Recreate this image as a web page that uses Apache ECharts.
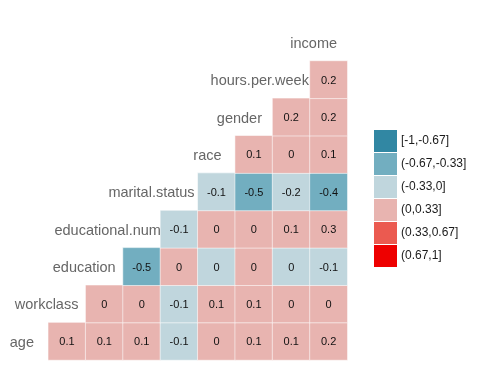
<!DOCTYPE html>
<html>
<head>
<meta charset="utf-8">
<script src="https://cdn.jsdelivr.net/npm/echarts@6/dist/echarts.min.js"></script>
<style>html,body{margin:0;padding:0;background:#fff;}#chart{width:480px;height:384px;}</style>
</head>
<body>
<div id="chart"></div>
<script>
// Variable names, placed on the diagonal (index 0 = bottom/left)
var variables = ['age','workclass','education','educational.num','marital.status','race','gender','hours.per.week','income'];
// Correlation values per row (row y, starting at column y+1)
var rowAge = [0.1, 0.1, 0.1, -0.1, 0.02, 0.1, 0.1, 0.2];
var rowWorkclass = [0.02, 0.02, -0.1, 0.1, 0.1, 0.02, 0.02];
var rowEducation = [-0.5, 0.02, -0.02, 0.02, -0.02, -0.1];
var rowEducationalNum = [-0.1, 0.02, 0.02, 0.1, 0.3];
var rowMarital = [-0.1, -0.5, -0.2, -0.4];
var rowRace = [0.1, 0.02, 0.1];
var rowGender = [0.2, 0.2];
var rowHours = [0.2];
var rows = [rowAge, rowWorkclass, rowEducation, rowEducationalNum, rowMarital, rowRace, rowGender, rowHours];
// Legend bins
var binLabels = ['[-1,-0.67]','(-0.67,-0.33]','(-0.33,0]','(0,0.33]','(0.33,0.67]','(0.67,1]'];
var binColors = ['#3187A3','#72AEC0','#C0D6DD','#E8B4B0','#EB5A50','#EE0000'];

var heatData = [];
rows.forEach(function (r, y) {
  r.forEach(function (v, k) { heatData.push([y + 1 + k, y, v]); });
});
var diagData = variables.map(function (n, i) { return [i, i]; });
var cats = variables.map(function (n, i) { return String(i); });

var ctx = document.createElement('canvas').getContext('2d');
var labelFont = '14.5px "Liberation Sans", Arial, sans-serif';
ctx.font = labelFont;

function fmt(v) {
  var r = Math.round(v * 10) / 10;
  if (r === 0) return '0';
  return String(r);
}

var chart = echarts.init(document.getElementById('chart'), null, {renderer: 'canvas'});
chart.setOption({
  backgroundColor: '#fff',
  animation: false,
  grid: {left: 10.9, top: 23.6, width: 336.4, height: 336.4},
  xAxis: {type: 'category', data: cats, show: false},
  yAxis: {type: 'category', data: cats, show: false},
  visualMap: {
    type: 'piecewise',
    dimension: 2,
    seriesIndex: 0,
    orient: 'vertical',
    align: 'left',
    left: 369,
    top: 125,
    padding: 5,
    itemWidth: 23,
    itemHeight: 22,
    itemGap: 1,
    itemSymbol: 'rect',
    textGap: 4,
    inverse: true,
    selectedMode: false,
    textStyle: {color: '#1a1a1a', fontSize: 12, fontFamily: '"Liberation Sans", Arial, sans-serif'},
    pieces: [
      {gte: -1, lte: -0.67, label: binLabels[0], color: binColors[0]},
      {gt: -0.67, lte: -0.33, label: binLabels[1], color: binColors[1]},
      {gt: -0.33, lte: 0, label: binLabels[2], color: binColors[2]},
      {gt: 0, lte: 0.33, label: binLabels[3], color: binColors[3]},
      {gt: 0.33, lte: 0.67, label: binLabels[4], color: binColors[4]},
      {gt: 0.67, lte: 1, label: binLabels[5], color: binColors[5]}
    ]
  },
  series: [
    {
      type: 'heatmap',
      data: heatData,
      itemStyle: {borderColor: 'rgba(255,255,255,0.55)', borderWidth: 1},
      label: {
        show: true,
        color: '#111',
        fontSize: 11,
        offset: [0, 1],
        fontFamily: '"Liberation Sans", Arial, sans-serif',
        formatter: function (p) { return fmt(p.value[2]); }
      },
      emphasis: {disabled: true}
    },
    {
      type: 'custom',
      data: diagData,
      silent: true,
      renderItem: function (params, api) {
        var p = api.coord([api.value(0), api.value(1)]);
        var name = variables[params.dataIndex];
        var w = ctx.measureText(name).width;
        return {
          type: 'text',
          x: p[0] - 0.82 * w,
          y: p[1] + 1.5,
          style: {text: name, font: labelFont, fill: '#666', align: 'left', verticalAlign: 'middle'}
        };
      }
    }
  ]
});
</script>
</body>
</html>
